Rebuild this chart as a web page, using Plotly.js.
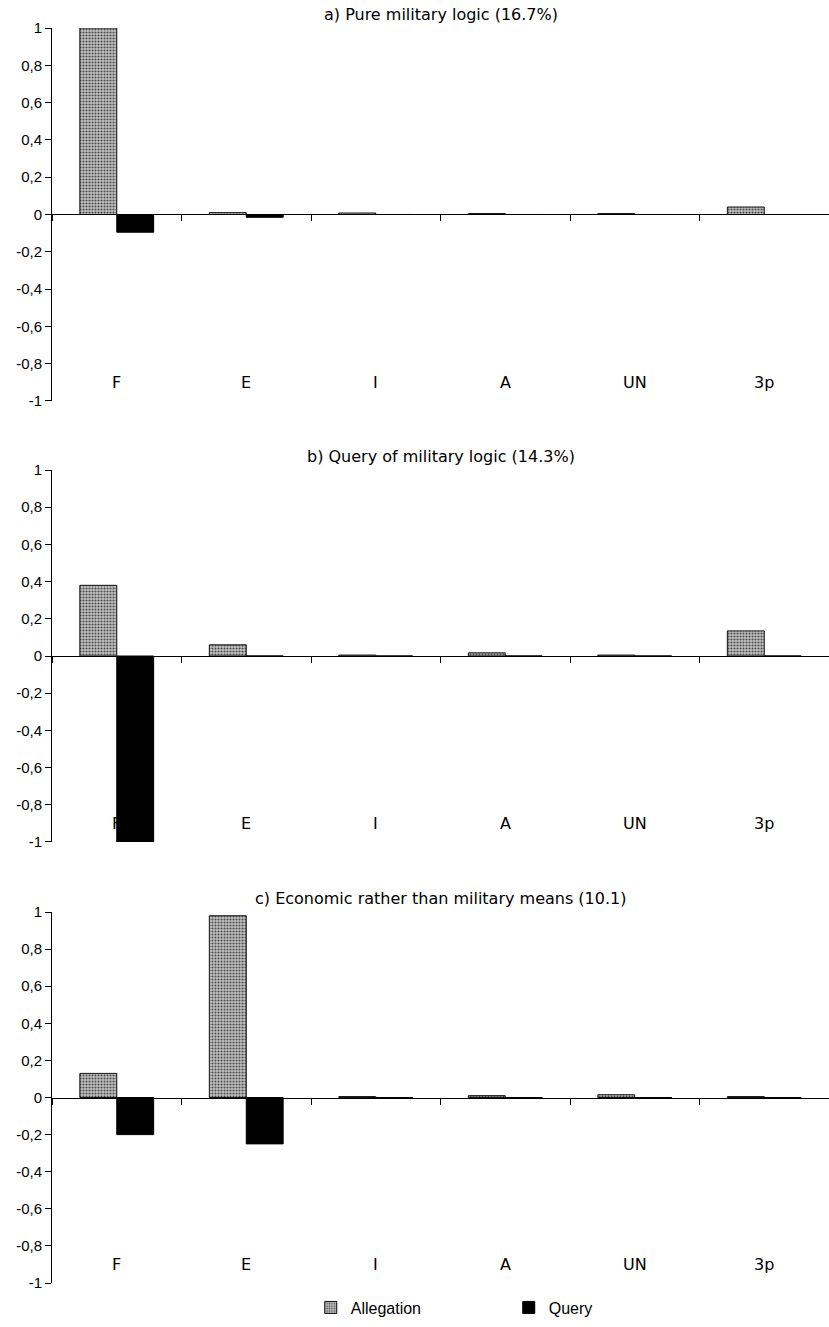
<!DOCTYPE html>
<html>
<head>
<meta charset="utf-8">
<script src="https://cdn.plot.ly/plotly-3.0.1.min.js"></script>
<style>html,body{margin:0;padding:0;background:#fff}#chart{width:829px;height:1327px}</style>
</head>
<body>
<div id="chart"></div>
<script>
// ---- data ----
const categories = ['F', 'E', 'I', 'A', 'UN', '3p'];
const panelTitles = [
  'a) Pure military logic (16.7%)',
  'b) Query of military logic (14.3%)',
  'c) Economic rather than military means (10.1)'
];
const allegationA = [1.0, 0.01, 0.008, 0.005, 0.005, 0.04];
const queryA      = [-0.095, -0.015, 0, 0, 0, 0];
const allegationB = [0.38, 0.06, 0.005, 0.017, 0.005, 0.135];
const queryB      = [-1.0, 0, 0, 0, 0, 0];
const allegationC = [0.13, 0.98, 0.005, 0.01, 0.015, 0.005];
const queryC      = [-0.2, -0.25, 0, -0.003, 0, 0];
const yTickVals = [-1, -0.8, -0.6, -0.4, -0.2, 0, 0.2, 0.4, 0.6, 0.8, 1];
const yTickText = ['-1', '-0,8', '-0,6', '-0,4', '-0,2', '0', '0,2', '0,4', '0,6', '0,8', '1'];
const labelLevel = -0.9;

const panels = [
  {alleg: allegationA, query: queryA},
  {alleg: allegationB, query: queryB},
  {alleg: allegationC, query: queryC}
];
const domains = [[0.7028, 1.0], [0.3514, 0.6478], [0.0, 0.2956]];

const traces = [];
const layout = {
  width: 829, height: 1327,
  margin: {l: 52, r: 0, t: 28, b: 44},
  paper_bgcolor: '#fff', plot_bgcolor: '#fff',
  barmode: 'group', bargap: 0.43, bargroupgap: 0,
  showlegend: true,
  legend: {
    orientation: 'h', x: 0.333, xanchor: 'left', y: -0.006, yanchor: 'top',
    font: {family: 'Liberation Sans, Arial, sans-serif', size: 16, color: '#000'},
    entrywidth: 153, entrywidthmode: 'pixels', traceorder: 'normal'
  },
  annotations: [],
  font: {family: 'Liberation Sans, Arial, sans-serif', color: '#000'}
};

panels.forEach((p, i) => {
  const n = i + 1;
  const xa = n === 1 ? 'x' : 'x' + n;
  const ya = n === 1 ? 'y' : 'y' + n;
  traces.push({
    type: 'bar', name: 'Allegation', x: categories, y: p.alleg,
    xaxis: xa, yaxis: ya, legendgroup: 'al', showlegend: i === 0,
    marker: {color: '#b8b8b8', line: {color: '#111', width: 1},
             pattern: {shape: '.', fgcolor: '#4a4a4a', bgcolor: '#c4c4c4', size: 3, solidity: 0.4}}
  });
  traces.push({
    type: 'bar', name: 'Query', x: categories, y: p.query,
    xaxis: xa, yaxis: ya, legendgroup: 'q', showlegend: i === 0,
    marker: {color: '#000', line: {color: '#000', width: 1}}
  });
  const d = domains[i];
  layout[n === 1 ? 'xaxis' : 'xaxis' + n] = {
    type: 'category', anchor: 'free', position: (d[0] + d[1]) / 2,
    showline: true, linecolor: '#000', linewidth: 1,
    ticks: 'outside', ticklen: 6, tickcolor: '#000', tickson: 'boundaries',
    showticklabels: false, showgrid: false, zeroline: false,
    range: [-0.5, 5.5], fixedrange: true
  };
  layout[n === 1 ? 'yaxis' : 'yaxis' + n] = {
    domain: d, range: [-1, 1], anchor: xa,
    showline: true, linecolor: '#000', linewidth: 1,
    ticks: 'outside', ticklen: 6, tickcolor: '#000',
    tickvals: yTickVals, ticktext: yTickText,
    tickfont: {family: 'Liberation Sans, Arial, sans-serif', size: 15, color: '#000'},
    showgrid: false, zeroline: false, fixedrange: true
  };
  // panel title
  layout.annotations.push({
    text: panelTitles[i], xref: 'paper', yref: 'paper',
    x: 0.5, y: d[1], yanchor: 'bottom', xanchor: 'center', showarrow: false, yshift: 2,
    font: {family: 'DejaVu Sans, Verdana, sans-serif', size: 16, color: '#000'}
  });
  // category labels near bottom
  categories.forEach(c => {
    layout.annotations.push({
      text: c, xref: xa, yref: ya, x: c, y: labelLevel, showarrow: false,
      font: {family: 'DejaVu Sans, Verdana, sans-serif', size: 16, color: '#000'}
    });
  });
});

Plotly.newPlot('chart', traces, layout, {displayModeBar: false, staticPlot: true});
</script>
</body>
</html>
